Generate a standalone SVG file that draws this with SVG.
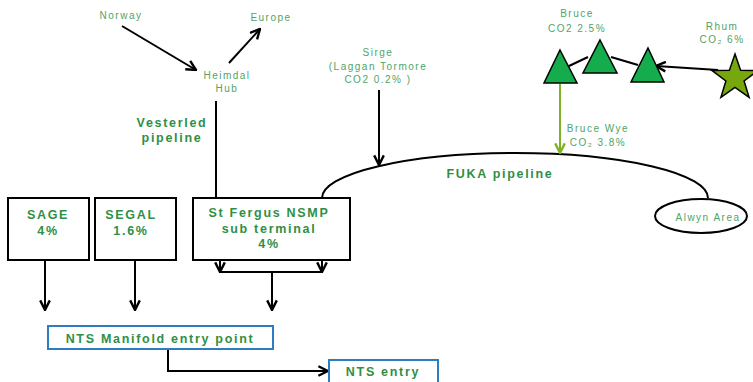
<svg xmlns="http://www.w3.org/2000/svg" width="753" height="382" viewBox="0 0 753 382">
<defs>
<marker id="ah" viewBox="0 0 10 10" refX="9" refY="5" markerWidth="6" markerHeight="6" orient="auto" markerUnits="strokeWidth">
<polyline points="1,1 9,5 1,9" fill="none" stroke="#000" stroke-width="2"/>
</marker>
<marker id="ahg" viewBox="0 0 10 10" refX="9" refY="5" markerWidth="6" markerHeight="6" orient="auto" markerUnits="strokeWidth">
<polyline points="1,1 9,5 1,9" fill="none" stroke="#7fb226" stroke-width="2"/>
</marker>
</defs>
<style>
.lbl{font-family:"Liberation Sans",Arial,sans-serif;font-size:10px;fill:#4fa469;letter-spacing:1.5px;text-anchor:middle}
.bold{font-family:"Liberation Sans",Arial,sans-serif;font-size:12.5px;font-weight:bold;fill:#2f8f46;letter-spacing:1.7px;text-anchor:middle}
.box{fill:#fff;stroke:#000;stroke-width:2}
.bbox{fill:#fff;stroke:#2e7cc4;stroke-width:2}
.ln{fill:none;stroke:#000;stroke-width:2}
.tri{fill:#14ac4c;stroke:#000;stroke-width:1.5}
</style>
<rect width="753" height="382" fill="#fff"/>
<g id="connectors">
<line class="ln" x1="122" y1="26" x2="196" y2="70" marker-end="url(#ah)"/>
<line class="ln" x1="229" y1="63" x2="260" y2="29" marker-end="url(#ah)"/>
<line class="ln" x1="216" y1="101" x2="216" y2="198"/>
<path class="ln" d="M322 198 A193 45 0 0 1 708 198"/>
<line class="ln" x1="379" y1="90" x2="379" y2="165" marker-end="url(#ah)"/>
<line x1="560" y1="84" x2="560" y2="153" stroke="#7fb226" stroke-width="2" marker-end="url(#ahg)"/>
<line class="ln" x1="569" y1="66" x2="588" y2="57" stroke-width="1.5"/>
<line class="ln" x1="611" y1="57" x2="638" y2="65" stroke-width="1.5"/>
<line class="ln" x1="718" y1="70" x2="656" y2="66" stroke-width="1.5" marker-end="url(#ah)"/>
<line class="ln" x1="45" y1="260" x2="45" y2="310" marker-end="url(#ah)"/>
<line class="ln" x1="135" y1="260" x2="135" y2="310" marker-end="url(#ah)"/>
<line class="ln" x1="220" y1="260" x2="220" y2="272" marker-end="url(#ah)"/>
<line class="ln" x1="322" y1="260" x2="322" y2="272" marker-end="url(#ah)"/>
<line class="ln" x1="220" y1="272" x2="322" y2="272"/>
<line class="ln" x1="272" y1="272" x2="272" y2="310" marker-end="url(#ah)"/>
<polyline class="ln" points="168,349 168,371 328,371" marker-end="url(#ah)"/>
</g>
<g id="norway"><text class="lbl" x="121" y="19">Norway</text></g>
<g id="europe"><text class="lbl" x="271" y="21">Europe</text></g>
<g id="heimdal"><text class="lbl" x="227" y="79">Heimdal</text><text class="lbl" x="227" y="92">Hub</text></g>
<g id="vesterled"><text class="bold" x="172" y="127">Vesterled</text><text class="bold" x="172" y="142">pipeline</text></g>
<g id="sirge"><text class="lbl" x="378" y="56">Sirge</text><text class="lbl" x="378" y="70" letter-spacing="1.1">(Laggan Tormore</text><text class="lbl" x="378" y="83">CO2 0.2% )</text></g>
<g id="bruce">
<text class="lbl" x="577" y="17">Bruce</text><text class="lbl" x="577" y="32">CO2 2.5%</text>
<polygon class="tri" points="560,50 577,83 544,83"/>
<polygon class="tri" points="600,40 617,73 583,73"/>
<polygon class="tri" points="648,48 664,82 631,82"/>
</g>
<g id="rhum">
<text class="lbl" x="722" y="30">Rhum</text><text class="lbl" x="722" y="43">CO₂ 6%</text>
<polygon points="735,54 740.6,70.3 757.8,70.6 744.1,81 749.1,97.4 735,87.5 720.9,97.4 725.9,81 712.2,70.6 729.4,70.3" fill="#76a80e" stroke="#000" stroke-width="1.5"/>
</g>
<g id="brucewye"><text class="lbl" x="598" y="132">Bruce Wye</text><text class="lbl" x="598" y="146">CO₂ 3.8%</text></g>
<g id="fuka"><text class="bold" x="500" y="178">FUKA pipeline</text></g>
<g id="alwyn"><ellipse cx="701" cy="216" rx="46" ry="17" class="box"/><text class="lbl" x="708" y="221" letter-spacing="1.1">Alwyn Area</text></g>
<g id="sage"><rect class="box" x="8" y="198" width="81" height="62"/><text class="bold" x="48" y="219" letter-spacing="2.5">SAGE</text><text class="bold" x="48" y="235">4%</text></g>
<g id="segal"><rect class="box" x="95" y="198" width="81" height="62"/><text class="bold" x="131" y="219" letter-spacing="2.5">SEGAL</text><text class="bold" x="131" y="235">1.6%</text></g>
<g id="stfergus"><rect class="box" x="193" y="198" width="157" height="62"/><text class="bold" x="269" y="217">St Fergus NSMP</text><text class="bold" x="269" y="233" letter-spacing="2.2">sub terminal</text><text class="bold" x="269" y="248">4%</text></g>
<g id="manifold"><rect class="bbox" x="48" y="326" width="225" height="23"/><text class="bold" x="160" y="343">NTS Manifold entry point</text></g>
<g id="ntsentry"><rect class="bbox" x="329" y="360" width="109" height="24"/><text class="bold" x="383" y="376">NTS entry</text></g>
</svg>
